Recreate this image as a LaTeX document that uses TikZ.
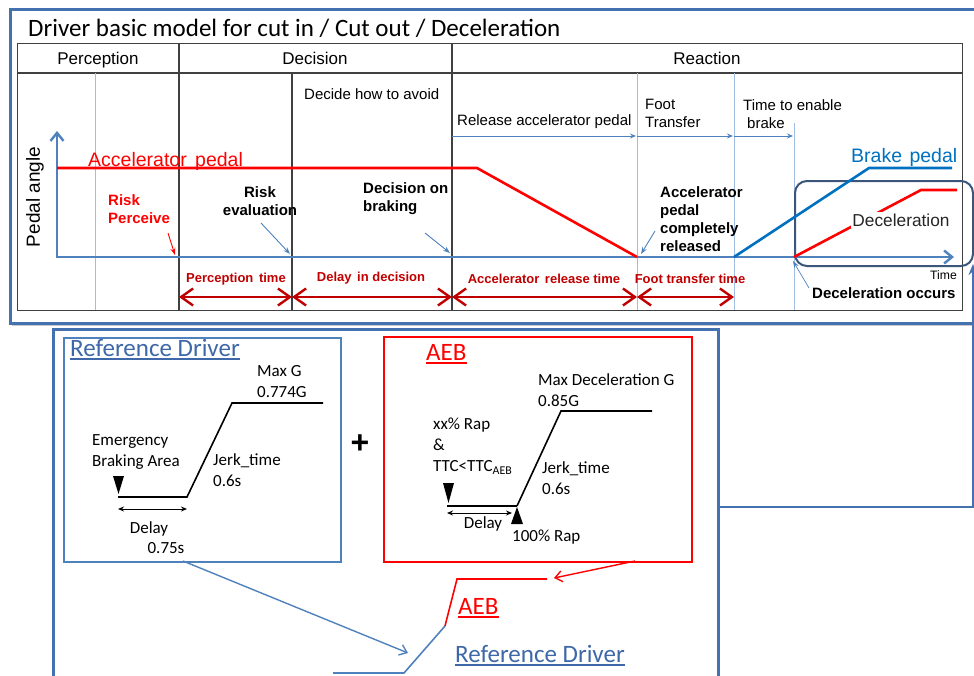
\documentclass[tikz,border=0pt]{standalone}
\usepackage{fontspec}
\setmainfont{Liberation Sans}
\newfontfamily\calfont{Carlito}
\usetikzlibrary{arrows.meta}
\definecolor{outerblue}{RGB}{68,114,176}
\definecolor{axisblue}{RGB}{79,129,189}
\definecolor{lightblue}{RGB}{160,190,225}
\definecolor{brakeblue}{RGB}{0,112,192}
\definecolor{darkred}{RGB}{192,0,0}
\definecolor{slate}{RGB}{59,86,122}
\definecolor{refblue}{RGB}{62,104,168}
\definecolor{tblgray}{RGB}{64,64,64}
\definecolor{shadowgray}{RGB}{200,200,200}
\begin{document}
\begin{tikzpicture}[x=1pt,y=-1pt,
  hdr/.style={inner sep=0pt, anchor=base, font=\fontsize{17}{20}\selectfont},
  lbl/.style={inner sep=0pt, font=\fontsize{15}{18}\selectfont, align=left},
  blbl/.style={inner sep=0pt, font=\bfseries\fontsize{15}{18}\selectfont, align=left},
  tlbl/.style={inner sep=0pt, font=\bfseries\fontsize{13}{15}\selectfont, text=darkred},
  clbl/.style={inner sep=0pt, font=\calfont\fontsize{17}{21}\selectfont, align=left},
  ctitle/.style={inner sep=0pt, font=\calfont\fontsize{25}{30}\selectfont},
  ptr/.style={draw=axisblue, line width=0.9pt, -{Stealth[length=7pt,width=5pt]}},
  phase/.style={draw=axisblue, line width=1pt, -{Stealth[length=6pt,width=5pt]}},
  span/.style={draw=darkred, line width=2.4pt, {Straight Barb[length=12pt,width=17pt]}-{Straight Barb[length=12pt,width=17pt]}},
  curve/.style={line width=2.6pt, line join=miter},
  gline/.style={black, line width=1.6pt, line join=miter},
  frame/.style={anchor=north west, inner sep=0pt},
  tline/.style={draw=tblgray, line width=1.2pt},
  lline/.style={draw=lightblue, line width=1pt},
  ulink/.style={line width=1.2pt}
]
\useasboundingbox (0,0) rectangle (974,675);
\clip (0,0) rectangle (974,675);

% ---------------- upper panel ----------------
\draw[shadowgray, line width=2pt] (12,325) -- (980,325);
\node[frame, draw=outerblue, line width=2.6pt, minimum width=975pt, minimum height=314pt] (topbox) at (9,8) {};
\node[ctitle, anchor=base west] (title) at (28,36) {Driver basic model for cut in / Cut out / Deceleration};

% table
\node[frame, tline, minimum width=945pt, minimum height=267pt] (tbl) at (17,43) {};
\draw[tline] (17,73) -- (962,73);
\draw[tline] (179,43) -- (179,310);
\draw[tline] (452,43) -- (452,310);
\draw[tline] (292,73) -- (292,310);
\node[hdr] (hperc) at (98,64) {Perception};
\node[hdr] (hdec) at (315,64) {Decision};
\node[hdr] (hreac) at (707,64) {Reaction};

% light verticals
\draw[lline] (95,73) -- (95,310);
\draw[lline] (637,73) -- (637,310);
\draw[lline] (734,73) -- (734,310);
\draw[lline] (794,123) -- (794,310);

% phase labels and arrows
\node[lbl, anchor=west] (avoid) at (304,94) {Decide how to avoid};
\node[lbl, anchor=west] (release) at (457,122) {Release accelerator pedal};
\node[lbl, anchor=west] (foot) at (645,113) {Foot\\Transfer};
\node[lbl, anchor=west] (enable) at (743,114) {Time to enable\\\hspace*{4pt}brake};
\coordinate (r0) at (452,136);
\coordinate (r1) at (636,136);
\coordinate (r1b) at (637,136);
\coordinate (r2) at (733,136);
\coordinate (r2b) at (734,136);
\coordinate (r3) at (793,136);
\draw[phase] (r0) -- (r1);
\draw[phase] (r1b) -- (r2);
\draw[phase] (r2b) -- (r3);

% rounded deceleration box
\node[frame, draw=slate, line width=2pt, rounded corners=12pt, minimum width=178pt, minimum height=85pt] (dbox) at (794,180) {};

% axes
\coordinate (O) at (57,257);
\coordinate (ytop) at (57,131);
\coordinate (xend) at (954,257);
\draw[axisblue, line width=2.4pt, line join=miter, {Straight Barb[length=8pt,width=13pt]}-{Straight Barb[length=8pt,width=13pt]}] (ytop) -- (O) -- (xend);
\node[rotate=90, inner sep=0pt, font=\fontsize{19}{22}\selectfont] (pangle) at (35,197) {Pedal angle};

% pedal curves
\coordinate (a0) at (57,168);
\coordinate (a1) at (477,168);
\coordinate (a2) at (637,257);
\draw[curve, red] (a0) -- (a1) -- (a2);
\coordinate (b0) at (734,257);
\coordinate (b1) at (869,168);
\coordinate (b2) at (952,168);
\draw[curve, brakeblue] (b0) -- (b1) -- (b2);
\coordinate (d0) at (794,257);
\coordinate (d1) at (921,190);
\coordinate (d2) at (957,190);
\draw[curve, red] (d0) -- (d1) -- (d2);
\node[fill=white, inner sep=1.5pt, font=\fontsize{17.3}{20}\selectfont, text=black!85] (decel) at (901,220) {Deceleration};

\node[inner sep=0pt, anchor=base west, text=red, font=\fontsize{19.5}{22}\selectfont] (accl) at (88,166) {Accelerator\hspace{3pt} pedal};
\node[inner sep=0pt, anchor=base west, text=brakeblue, font=\fontsize{19.5}{22}\selectfont] (brakel) at (851,162) {Brake\hspace{2pt} pedal};

% event labels
\node[blbl, anchor=west, text=red] (riskp) at (108,209) {Risk\\Perceive};
\coordinate (rpA) at (168,233);
\coordinate (rpB) at (175,255);
\draw[red, line width=0.9pt, -{Stealth[length=7pt,width=5pt]}] (rpA) -- (rpB);

\node[blbl, align=center] (riske) at (260,201) {Risk\\evaluation};
\coordinate (reA) at (261,223);
\coordinate (reB) at (290,254);
\draw[ptr] (reA) -- (reB);

\node[blbl, anchor=west] (decb) at (363,199) {Decision on\\braking};
\coordinate (dbA) at (425,233);
\coordinate (dbB) at (450,253);
\draw[ptr] (dbA) -- (dbB);

\node[blbl, anchor=west] (released) at (660,219) {Accelerator\\pedal\\completely\\released};
\coordinate (arA) at (655,231);
\coordinate (arB) at (641,254);
\draw[ptr] (arA) -- (arB);

\node[inner sep=0pt, anchor=east, font=\fontsize{12.2}{14}\selectfont] (timel) at (957,275) {Time};
\node[blbl, anchor=west] (occurs) at (812,293) {Deceleration occurs};
\coordinate (ocA) at (809,288);
\coordinate (ocB) at (793,261);
\draw[ptr, line width=0.7pt] (ocA) -- (ocB);

% time spans
\coordinate (s0) at (179,297);
\coordinate (s1) at (292,297);
\coordinate (s2) at (452,297);
\coordinate (s3) at (637,297);
\coordinate (s4) at (734,297);
\draw[span] (s0) -- (s1);
\draw[span] (s1) -- (s2);
\draw[span] (s2) -- (s3);
\draw[span] (s3) -- (s4);
\node[tlbl] (tperc) at (236,279) {Perception\hspace{2pt} time};
\node[tlbl] (tdel) at (371,278) {Delay\hspace{2pt} in decision};
\node[tlbl] (tacc) at (544,279) {Accelerator\hspace{2pt} release time};
\node[tlbl] (tfoot) at (690,279) {Foot transfer time};

% ---------------- lower panel ----------------
\node[frame, draw=outerblue, line width=2.6pt, minimum width=665pt, minimum height=360pt] (lowbox) at (52,328) {};

% reference driver box
\node[frame, draw=axisblue, line width=1.6pt, minimum width=277pt, minimum height=224pt] (refbox) at (63,337) {};
\node[ctitle, anchor=base west, text=refblue] (reftitle) at (70,356) {Reference Driver};
\draw[refblue, ulink] ([yshift=-3pt]reftitle.base west) -- ([yshift=-3pt]reftitle.base east);
\coordinate (g0) at (118,497);
\coordinate (g1) at (187,497);
\coordinate (g2) at (232,403);
\coordinate (g3) at (323,403);
\draw[gline] (g0) -- (g1) -- (g2) -- (g3);
\node[clbl, anchor=west] (maxg) at (257,381.5) {Max G\\0.774G};
\node[clbl, anchor=west] (eba) at (92,451.5) {Emergency\\Braking Area};
\node[clbl, anchor=west] (jerk1) at (213,470) {Jerk\_time\\0.6s};
\fill[black] (113,476) -- (124,476) -- (118.5,494) -- cycle;
\coordinate (da0) at (118,509);
\coordinate (da1) at (187,509);
\draw[black, line width=1pt, {Stealth[length=6pt,width=5pt]}-{Stealth[length=6pt,width=5pt]}] (da0) -- (da1);
\node[clbl] (delay1) at (149,529) {Delay};
\node[clbl] (delayv) at (166,548) {0.75s};

% plus
\node[inner sep=0pt, font=\bfseries\fontsize{32}{34}\selectfont] (plus) at (360,444) {+};

% AEB box
\node[frame, draw=red, line width=2pt, minimum width=308pt, minimum height=225pt] (aebbox) at (383,336) {};
\node[ctitle, anchor=base west, text=red] (aebtitle) at (426,360) {AEB};
\draw[red, ulink] ([yshift=-3pt]aebtitle.base west) -- ([yshift=-3pt]aebtitle.base east);
\coordinate (h0) at (447,506);
\coordinate (h1) at (517,506);
\coordinate (h2) at (561,411);
\coordinate (h3) at (652,411);
\draw[gline] (h1) -- (h2) -- (h3);
\draw[black, line width=2.6pt] (h0) -- (h1);
\node[clbl, anchor=west] (maxd) at (538,390.5) {Max Deceleration G\\0.85G};
\node[clbl, anchor=west] (rap) at (433,446) {xx\% Rap\\\&\\TTC<TTC\textsubscript{AEB}};
\node[clbl, anchor=west] (jerk2) at (542,478.5) {Jerk\_time\\0.6s};
\fill[black] (443,483) -- (454,483) -- (448.5,503) -- cycle;
\fill[black] (517,507) -- (523,524) -- (511,524) -- cycle;
\coordinate (ea0) at (447,513);
\coordinate (ea1) at (512,513);
\draw[black, line width=1pt, {Stealth[length=6pt,width=5pt]}-{Stealth[length=6pt,width=5pt]}] (ea0) -- (ea1);
\node[clbl] (delay2) at (483,524) {Delay};
\node[clbl, anchor=west] (full) at (512,537) {100\% Rap};

% combined result
\coordinate (c0) at (547,579);
\coordinate (c1) at (457,579);
\coordinate (c2) at (445,626);
\coordinate (c3) at (404,673);
\coordinate (c4) at (333,673);
\draw[red, line width=1.6pt, line join=miter] (c0) -- (c1) -- (c2);
\draw[axisblue, line width=1.6pt, line join=miter] (c2) -- (c3) -- (c4);
\node[ctitle, anchor=base west, text=red] (aeb2) at (458,614) {AEB};
\draw[red, ulink] ([yshift=-3pt]aeb2.base west) -- ([yshift=-3pt]aeb2.base east);
\node[ctitle, anchor=base west, text=refblue] (ref2) at (455,662) {Reference Driver};
\draw[refblue, ulink] ([yshift=-3pt]ref2.base west) -- ([yshift=-3pt]ref2.base east);

% connectors
\coordinate (refout) at (183,561);
\coordinate (refin) at (408,653);
\draw[axisblue, line width=1.4pt, -{Straight Barb[length=7pt,width=11pt]}] (refout) -- (refin);
\coordinate (aebout) at (635,561);
\coordinate (aebin) at (554,578);
\draw[red, line width=1.4pt, -{Straight Barb[length=7pt,width=11pt]}] (aebout) -- (aebin);
\coordinate (lowR) at (717,507);
\coordinate (dboxR) at (973,264);
\draw[outerblue, line width=2.4pt, -{Stealth[length=11pt,width=9pt]}] (lowR) -| (dboxR);
\end{tikzpicture}
\end{document}
